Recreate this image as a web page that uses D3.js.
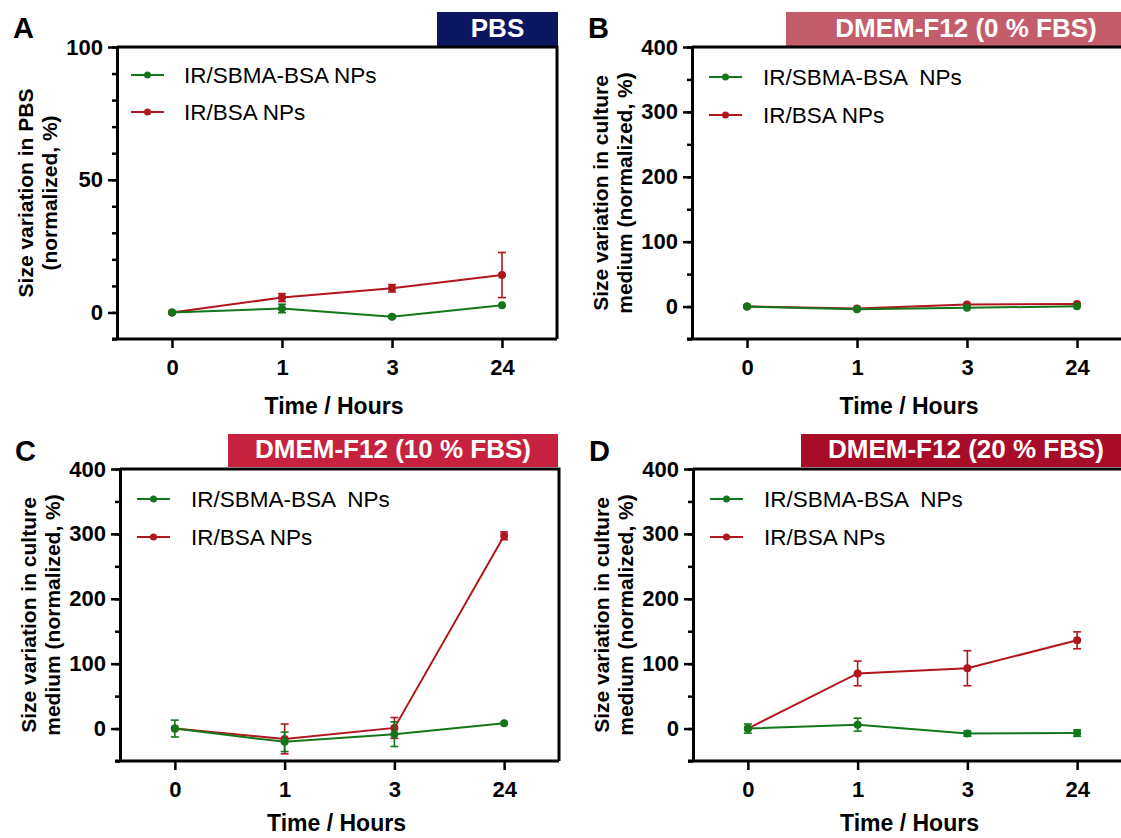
<!DOCTYPE html>
<html>
<head>
<meta charset="utf-8">
<script src="https://cdn.jsdelivr.net/npm/d3@7/dist/d3.min.js"></script>
<style>
  html, body { margin: 0; padding: 0; background: #fff; overflow: hidden; }
  svg { display: block; font-family: "Liberation Sans", Arial, Helvetica, sans-serif; }
</style>
</head>
<body>
<svg id="fig" width="1121" height="838"></svg>
<script>
// Time points (hours) shown on the categorical x axis
const hours = ["0", "1", "3", "24"];
const seriesNames = ["IR/SBMA-BSA NPs", "IR/BSA NPs"];

// A: PBS
const pbsSbma = [0, 1.5, -1.6, 2.7];
const pbsSbmaErr = [0, 1.6, 0.5, 0];
const pbsBsa = [0, 5.6, 9.1, 14.1];
const pbsBsaErr = [0, 1.5, 1.4, 8.5];

// B: DMEM-F12 (0 % FBS)
const fbs0Sbma = [0, -4, -2, 0.5];
const fbs0SbmaErr = [0, 0, 0, 0];
const fbs0Bsa = [0, -3, 3, 4];
const fbs0BsaErr = [0, 0, 0, 0];

// C: DMEM-F12 (10 % FBS)
const fbs10Sbma = [0, -20.5, -8.7, 8.2];
const fbs10SbmaErr = [13, 15, 19, 0];
const fbs10Bsa = [0, -16, 1, 297];
const fbs10BsaErr = [0, 23, 16, 6];

// D: DMEM-F12 (20 % FBS)
const fbs20Sbma = [0, 6, -7.7, -7];
const fbs20SbmaErr = [7, 10, 4, 5];
const fbs20Bsa = [0, 85, 93, 136];
const fbs20BsaErr = [0, 19, 27, 13];

// Axis ranges and tick labels
const pbsYDomain = [-10, 100];
const pbsYTicks = [0, 50, 100];
const pbsYMinorStep = 10;
const mediumYDomain = [-50, 400];
const mediumYTicks = [0, 100, 200, 300, 400];
const mediumYMinorStep = 50;

const GREEN = "#14761b";
const RED = "#b0161c";

const panels = [
  { letter: "A", title: "PBS", titleColor: "#0c1660",
    sbma: pbsSbma, sbmaErr: pbsSbmaErr, bsa: pbsBsa, bsaErr: pbsBsaErr,
    yDomain: pbsYDomain, yTicks: pbsYTicks, yMinor: pbsYMinorStep,
    yTitle: ["Size variation in PBS", "(normalized, %)"],
    legendNames: ["IR/SBMA-BSA NPs", "IR/BSA NPs"],
    box: { left: 117, right: 557, top: 47, bottom: 339 },
    tbox: { x0: 437, x1: 558, y0: 12, y1: 46 },
    lx: 14, ltx: 67, ly: [28, 65], letterPos: [13, 38], xTitleDy: 75 },
  { letter: "B", title: "DMEM-F12 (0 % FBS)", titleColor: "#c35c6b",
    sbma: fbs0Sbma, sbmaErr: fbs0SbmaErr, bsa: fbs0Bsa, bsaErr: fbs0BsaErr,
    yDomain: mediumYDomain, yTicks: mediumYTicks, yMinor: mediumYMinorStep,
    yTitle: ["Size variation in culture", "medium (normalized, %)"],
    legendNames: ["IR/SBMA-BSA  NPs", "IR/BSA NPs"],
    box: { left: 692, right: 1132, top: 47, bottom: 339 },
    tbox: { x0: 786, x1: 1146, y0: 12, y1: 46 },
    lx: 17, ltx: 71, ly: [30, 68], letterPos: [588, 38], xTitleDy: 75 },
  { letter: "C", title: "DMEM-F12 (10 % FBS)", titleColor: "#c6223f",
    sbma: fbs10Sbma, sbmaErr: fbs10SbmaErr, bsa: fbs10Bsa, bsaErr: fbs10BsaErr,
    yDomain: mediumYDomain, yTicks: mediumYTicks, yMinor: mediumYMinorStep,
    yTitle: ["Size variation in culture", "medium (normalized, %)"],
    legendNames: ["IR/SBMA-BSA  NPs", "IR/BSA NPs"],
    box: { left: 120, right: 559, top: 469, bottom: 761 },
    tbox: { x0: 228, x1: 558, y0: 434, y1: 467 },
    lx: 17, ltx: 71, ly: [30, 68], letterPos: [15, 461], xTitleDy: 70 },
  { letter: "D", title: "DMEM-F12 (20 % FBS)", titleColor: "#a70c29",
    sbma: fbs20Sbma, sbmaErr: fbs20SbmaErr, bsa: fbs20Bsa, bsaErr: fbs20BsaErr,
    yDomain: mediumYDomain, yTicks: mediumYTicks, yMinor: mediumYMinorStep,
    yTitle: ["Size variation in culture", "medium (normalized, %)"],
    legendNames: ["IR/SBMA-BSA  NPs", "IR/BSA NPs"],
    box: { left: 693, right: 1132, top: 469, bottom: 761 },
    tbox: { x0: 801, x1: 1131, y0: 434, y1: 467 },
    lx: 17, ltx: 71, ly: [30, 68], letterPos: [589, 461], xTitleDy: 70 }
];

const svg = d3.select("#fig");

panels.forEach(p => {
  const g = svg.append("g");
  const b = p.box;

  const x = d3.scalePoint().domain(hours).range([b.left, b.right]).padding(0.5);
  const y = d3.scaleLinear().domain(p.yDomain).range([b.bottom, b.top]);

  // condition banner
  g.append("rect")
    .attr("x", p.tbox.x0).attr("y", p.tbox.y0)
    .attr("width", p.tbox.x1 - p.tbox.x0).attr("height", p.tbox.y1 - p.tbox.y0)
    .attr("fill", p.titleColor);
  g.append("text")
    .attr("x", (p.tbox.x0 + p.tbox.x1) / 2)
    .attr("y", p.tbox.y1 - 9)
    .attr("text-anchor", "middle")
    .attr("fill", "#fff")
    .attr("font-weight", "bold")
    .attr("font-size", 26)
    .text(p.title);

  // panel letter
  g.append("text")
    .attr("x", p.letterPos[0]).attr("y", p.letterPos[1])
    .attr("font-weight", "bold").attr("font-size", 29)
    .attr("fill", "#000")
    .text(p.letter);

  // frame (top and right edges)
  g.append("path")
    .attr("d", `M${b.left},${b.top}H${b.right}V${b.bottom}`)
    .attr("fill", "none").attr("stroke", "#000").attr("stroke-width", 3);

  // y axis: minor ticks then major labelled ticks
  const minorVals = d3.range(p.yDomain[0], p.yDomain[1] + 0.001, p.yMinor);
  const yMinorAxis = d3.axisLeft(y).tickValues(minorVals).tickSize(5).tickSizeOuter(0).tickFormat("");
  const yMajorAxis = d3.axisLeft(y).tickValues(p.yTicks).tickSize(9).tickSizeOuter(0).tickPadding(5);
  const gyMinor = g.append("g").attr("transform", `translate(${b.left},0)`).call(yMinorAxis);
  const gy = g.append("g").attr("transform", `translate(${b.left},0)`).call(yMajorAxis);
  [gyMinor, gy].forEach(a => {
    a.select(".domain").attr("stroke-width", 3).attr("stroke", "#000");
    a.selectAll(".tick line").attr("stroke-width", 2.5).attr("stroke", "#000");
  });
  gy.selectAll(".tick text")
    .attr("font-size", 22).attr("font-weight", "bold").attr("fill", "#000")
    .attr("font-family", "Liberation Sans, Arial, sans-serif");

  // x axis
  const xAxis = d3.axisBottom(x).tickSize(9).tickSizeOuter(0).tickPadding(11);
  const gx = g.append("g").attr("transform", `translate(0,${b.bottom})`).call(xAxis);
  gx.select(".domain").remove();
  gx.append("line")
    .attr("x1", b.left - 5).attr("x2", b.right)
    .attr("y1", 0).attr("y2", 0)
    .attr("stroke", "#000").attr("stroke-width", 3);
  gx.selectAll(".tick line").attr("stroke-width", 2.5).attr("stroke", "#000");
  gx.selectAll(".tick text")
    .attr("font-size", 22).attr("font-weight", "bold").attr("fill", "#000")
    .attr("font-family", "Liberation Sans, Arial, sans-serif");

  // axis titles
  g.append("text")
    .attr("x", (b.left + b.right) / 2 - 3)
    .attr("y", b.bottom + p.xTitleDy)
    .attr("text-anchor", "middle")
    .attr("font-weight", "bold").attr("font-size", 23)
    .text("Time / Hours");

  const cy = (b.top + b.bottom) / 2;
  p.yTitle.forEach((line, i) => {
    const cx = b.left - 92 + i * 24;
    g.append("text")
      .attr("transform", `translate(${cx},${cy}) rotate(-90)`)
      .attr("text-anchor", "middle")
      .attr("dominant-baseline", "central")
      .attr("font-weight", "bold").attr("font-size", 21)
      .text(line);
  });

  // series: red first, green drawn on top
  const series = [
    { vals: p.bsa, errs: p.bsaErr, color: RED },
    { vals: p.sbma, errs: p.sbmaErr, color: GREEN }
  ];
  const line = d3.line().x((d, i) => x(hours[i])).y(d => y(d));

  series.forEach(s => {
    const sg = g.append("g");
    sg.append("path")
      .datum(s.vals)
      .attr("d", line)
      .attr("fill", "none")
      .attr("stroke", s.color)
      .attr("stroke-width", 2);

    const pts = s.vals.map((v, i) => ({ h: hours[i], v, e: s.errs[i] }));
    const eb = sg.selectAll(".eb").data(pts.filter(d => d.e > 0)).join("g");
    eb.append("line")
      .attr("x1", d => x(d.h)).attr("x2", d => x(d.h))
      .attr("y1", d => y(d.v - d.e)).attr("y2", d => y(d.v + d.e))
      .attr("stroke", s.color).attr("stroke-width", 1.6);
    [-1, 1].forEach(sign => {
      eb.append("line")
        .attr("x1", d => x(d.h) - 4).attr("x2", d => x(d.h) + 4)
        .attr("y1", d => y(d.v + sign * d.e)).attr("y2", d => y(d.v + sign * d.e))
        .attr("stroke", s.color).attr("stroke-width", 1.6);
    });

    sg.selectAll("circle").data(pts).join("circle")
      .attr("cx", d => x(d.h)).attr("cy", d => y(d.v))
      .attr("r", 4).attr("fill", s.color);
  });

  // legend
  const legendColors = [GREEN, RED];
  p.legendNames.forEach((name, i) => {
    const ly = b.top + p.ly[i];
    const x0 = b.left + p.lx, x1 = x0 + 33;
    g.append("line")
      .attr("x1", x0).attr("x2", x1).attr("y1", ly).attr("y2", ly)
      .attr("stroke", legendColors[i]).attr("stroke-width", 2);
    g.append("circle")
      .attr("cx", (x0 + x1) / 2).attr("cy", ly).attr("r", 3.5)
      .attr("fill", legendColors[i]);
    g.append("text")
      .attr("x", b.left + p.ltx).attr("y", ly + 8)
      .attr("font-size", 22.5)
      .attr("xml:space", "preserve")
      .style("white-space", "pre")
      .text(name);
  });
});
</script>
</body>
</html>
